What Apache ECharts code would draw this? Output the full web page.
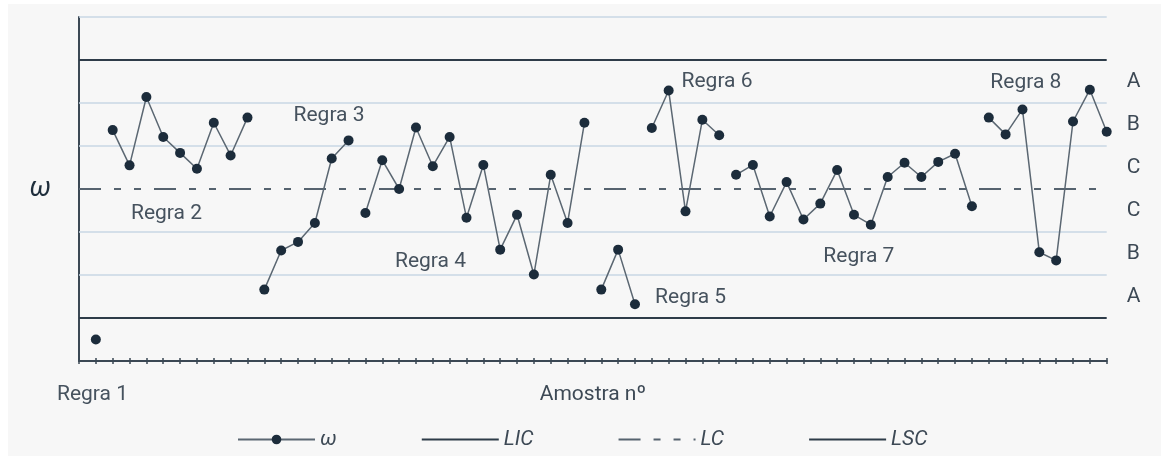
<!DOCTYPE html>
<html>
<head>
<meta charset="utf-8">
<script src="https://cdn.jsdelivr.net/npm/echarts@6/dist/echarts.min.js"></script>
<style>
  html, body { margin: 0; padding: 0; background: #ffffff; }
  #chart { width: 1161px; height: 459px; }
</style>
</head>
<body>
<div id="chart"></div>
<script>
// ---- data (ω per sample, grouped by rule) ----
const regra1 = [-3.50];
const regra2 = [1.37, 0.55, 2.14, 1.21, 0.84, 0.47, 1.54, 0.78, 1.66];
const regra3 = [-2.34, -1.43, -1.23, -0.79, 0.71, 1.13];
const regra4 = [-0.56, 0.67, 0.00, 1.43, 0.53, 1.21, -0.67, 0.56, -1.41, -0.60, -1.99, 0.33, -0.79, 1.54];
const regra5 = [-2.34, -1.41, -2.68];
const regra6 = [1.42, 2.29, -0.52, 1.61, 1.25];
const regra7 = [0.33, 0.56, -0.64, 0.16, -0.71, -0.34, 0.44, -0.60, -0.83, 0.28, 0.61, 0.28, 0.63, 0.82, -0.40];
const regra8 = [1.66, 1.27, 1.85, -1.47, -1.66, 1.57, 2.31, 1.33];
const groups = [regra1, regra2, regra3, regra4, regra5, regra6, regra7, regra8];

// control limits (in sigma units)
const LSC = 3;
const LC = 0;
const LIC = -3;
const nSamples = 61;

// zone boundaries (light lines) and zone labels
const zoneLines = [-2, -1, 1, 2, 4];
const zoneLabelValues = [2.5, 1.5, 0.5, -0.5, -1.5, -2.5];
const zoneLabelTexts = ['A', 'B', 'C', 'C', 'B', 'A'];

// annotations: text and data position (sample, ω)
const annotTexts = ['Regra 1', 'Regra 2', 'Regra 3', 'Regra 4', 'Regra 5', 'Regra 6', 'Regra 7', 'Regra 8'];
const annotX = [0.80, 5.19, 14.84, 20.86, 36.30, 37.87, 46.29, 56.20];
const annotY = [-4.78, -0.57, 1.71, -1.70, -2.53, 2.49, -1.58, 2.47];

const legendNames = ['ω', 'LIC', 'LC', 'LSC'];

// ---- build series data: consecutive samples, gaps between rule groups ----
const omegaData = [];
let idx = 1;
groups.forEach(function (g, gi) {
  g.forEach(function (v) { omegaData.push([idx, v]); idx++; });
  if (gi < groups.length - 1) omegaData.push([idx - 0.5, '-']);
});

const textColor = '#3d4955';
const darkLine = '#2e3c49';
const font = 'Roboto, "Noto Sans", sans-serif';

const chart = echarts.init(document.getElementById('chart'), null, { renderer: 'canvas' });

const option = {
  backgroundColor: '#ffffff',
  animation: false,
  grid: { left: 79, right: 54.3, top: 17, bottom: 98, containLabel: false },
  legend: {
    data: legendNames.map(function (n) {
      return n === 'ω' ? { name: n } : { name: n, itemStyle: { opacity: 0, borderWidth: 0 } };
    }),
    left: 232,
    top: 424,
    itemWidth: 77,
    itemHeight: 12,
    itemGap: 84,
    textStyle: { fontFamily: font, fontStyle: 'italic', fontSize: 21, color: textColor }
  },
  xAxis: [
    {
      type: 'value', min: 0, max: nSamples, interval: 1, position: 'bottom',
      axisLine: { show: true, onZero: false, lineStyle: { color: '#3b4854', width: 2 } },
      axisTick: { show: true, inside: false, length: 3, lineStyle: { color: '#3b4854', width: 1.5 } },
      axisLabel: { show: false },
      splitLine: { show: false },
      name: 'Amostra nº', nameLocation: 'middle', nameGap: 23,
      nameTextStyle: { fontFamily: font, fontSize: 21, color: textColor }
    },
    {
      type: 'value', min: 0, max: nSamples, interval: 1, position: 'bottom', offset: 0,
      axisLine: { show: false, onZero: false },
      axisTick: { show: true, inside: true, length: 3, lineStyle: { color: '#3b4854', width: 1.5 } },
      axisLabel: { show: false },
      splitLine: { show: false }
    }
  ],
  yAxis: [
    {
      type: 'value', min: -4, max: 4, interval: 1, position: 'left',
      axisLine: { show: true, onZero: false, lineStyle: { color: '#3b4854', width: 2 } },
      axisTick: { show: false },
      axisLabel: { show: false },
      splitLine: { show: false },
      name: 'ω', nameLocation: 'middle', nameRotate: 0, nameGap: 28,
      nameTextStyle: { fontFamily: font, fontStyle: 'italic', fontSize: 27, color: '#1f2e3c', align: 'right', verticalAlign: 'middle' }
    },
    {
      type: 'value', min: -4, max: 4, interval: 0.5, position: 'right',
      axisLine: { show: false, onZero: false },
      axisTick: { show: false },
      splitLine: { show: false },
      axisLabel: {
        show: true, margin: 20, fontFamily: font, fontSize: 21, color: textColor,
        formatter: function (v) {
          const i = zoneLabelValues.indexOf(v);
          return i >= 0 ? zoneLabelTexts[i] : '';
        }
      }
    }
  ],
  series: [
    {
      name: 'zonas', type: 'line', data: [], silent: true, z: 1,
      markLine: {
        silent: true, symbol: ['none', 'none'], label: { show: false },
        lineStyle: { type: 'solid', color: '#c8d7e5', width: 1.5 },
        data: zoneLines.map(function (v) { return { yAxis: v }; })
      }
    },
    {
      name: 'LIC', type: 'line', showSymbol: false, symbol: 'none', z: 3,
      data: [[0, LIC], [nSamples, LIC]],
      lineStyle: { color: darkLine, width: 2 },
      itemStyle: { color: darkLine }
    },
    {
      name: 'LC', type: 'line', showSymbol: false, symbol: 'none', z: 3,
      data: [[0, LC], [nSamples, LC]],
      lineStyle: { color: '#56636f', width: 2, type: [22, 13, 7, 13, 7, 13], dashOffset: 0 },
      itemStyle: { color: '#56636f' }
    },
    {
      name: 'LSC', type: 'line', showSymbol: false, symbol: 'none', z: 3,
      data: [[0, LSC], [nSamples, LSC]],
      lineStyle: { color: darkLine, width: 2 },
      itemStyle: { color: darkLine }
    },
    {
      name: 'ω', type: 'line', z: 5,
      data: omegaData,
      connectNulls: false,
      symbol: 'circle', symbolSize: 10, showSymbol: true,
      lineStyle: { color: '#5b6772', width: 1.5 },
      itemStyle: { color: '#1c2c3b' }
    }
  ]
};
chart.setOption(option);

// annotations placed via the chart's own scales
const graphics = [{
  type: 'rect', z: -100, silent: true,
  shape: { x: 8, y: 4, width: 1153, height: 452 },
  style: { fill: '#f7f7f7' }
}];
annotTexts.forEach(function (t, i) {
  const p = chart.convertToPixel({ gridIndex: 0 }, [annotX[i], annotY[i]]);
  graphics.push({
    type: 'text', x: p[0], y: p[1], z: 10, silent: true,
    style: { text: t, fontFamily: font, fontSize: 21, fill: '#46525e', align: 'center', verticalAlign: 'middle' }
  });
});
chart.setOption({ graphic: graphics });
</script>
</body>
</html>
